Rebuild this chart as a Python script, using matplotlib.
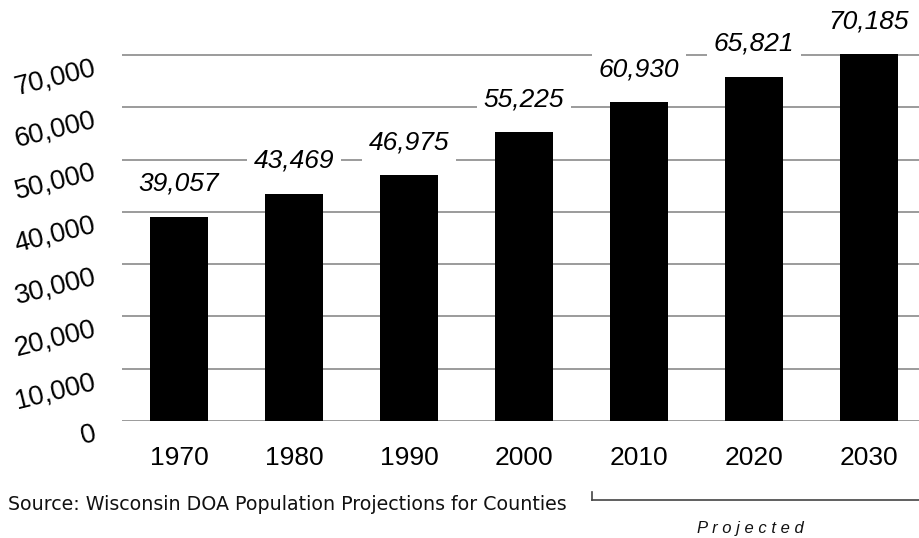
import matplotlib
matplotlib.use('Agg')
import matplotlib.pyplot as plt

# Population by census year (2010-2030 projected)
years = ['1970', '1980', '1990', '2000', '2010', '2020', '2030']
population = [39057, 43469, 46975, 55225, 60930, 65821, 70185]
value_labels = ['39,057', '43,469', '46,975', '55,225', '60,930', '65,821', '70,185']
y_ticks = [0, 10000, 20000, 30000, 40000, 50000, 60000, 70000]
y_tick_labels = ['0', '10,000', '20,000', '30,000', '40,000', '50,000', '60,000', '70,000']
source_note = 'Source: Wisconsin DOA Population Projections for Counties'
projected_note = 'P r o j e c t e d'

plt.rcParams['font.family'] = ['Liberation Sans', 'DejaVu Sans']

fig = plt.figure(figsize=(9.19, 5.38), dpi=100)
ax = fig.add_axes([121.5 / 919, 1 - 421 / 538, (919 - 121.5) / 919, 421 / 538])

x = range(len(years))
ax.bar(x, population, width=0.5, color='black', zorder=2)

ax.set_xlim(-0.5, 6.435)
ax.set_ylim(0, 80500)

# gridlines
ax.set_yticks(y_ticks)
ax.yaxis.grid(True, color='#808080', linewidth=1.1, zorder=0)
ax.set_axisbelow(True)
for sp in ax.spines.values():
    sp.set_visible(False)
ax.tick_params(axis='both', length=0)

ax.set_yticklabels(y_tick_labels, fontsize=19.5, rotation=14,
                   rotation_mode='anchor', ha='right', va='top')
ax.tick_params(axis='y', pad=21)
ax.set_xticks(list(x))
ax.set_xticklabels(years, fontsize=19)
ax.tick_params(axis='x', pad=18)

# value labels on white boxes so they break the gridlines
for i, v in enumerate(population):
    ax.annotate(value_labels[i], (i, v), xytext=(0, 15), textcoords='offset points',
                ha='center', va='bottom', fontsize=19, style='italic',
                bbox=dict(boxstyle='square,pad=0.25', fc='white', ec='none'),
                zorder=3, annotation_clip=False)

# source line and projected bracket
fig.text(8 / 919, 1 - 505 / 538, source_note, fontsize=13.7, family='DejaVu Sans',
         va='center', ha='left', color='#111111')
br_x0 = 592 / 919
br_top = 1 - 492 / 538
br_bot = 1 - 500 / 538
fig.add_artist(plt.Line2D([br_x0, br_x0], [br_top, br_bot], color='#444444', linewidth=1.2))
fig.add_artist(plt.Line2D([br_x0, 1.0], [br_bot, br_bot], color='#444444', linewidth=1.2))
fig.text(750 / 919, 1 - 528 / 538, projected_note, fontsize=12, style='italic',
         ha='center', va='center', color='#111111')

fig.savefig('out.png', dpi=100)
